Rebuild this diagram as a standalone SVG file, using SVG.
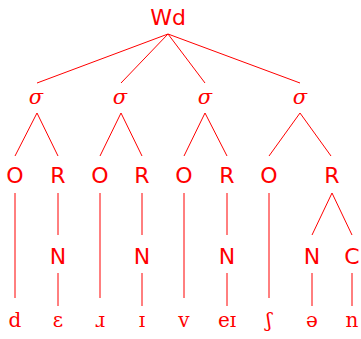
<svg xmlns="http://www.w3.org/2000/svg" width="361" height="339" viewBox="0 0 361 339">
<style>
.s{font-family:"DejaVu Sans",sans-serif;font-size:22px;fill:#ff0000;text-anchor:middle}
.g{font-family:"DejaVu Serif",serif;font-style:italic;font-size:21px;fill:#ff0000;text-anchor:middle}
.p{font-family:"DejaVu Serif",serif;font-size:20px;fill:#ff0000;text-anchor:middle}
line{stroke:#ff0000;stroke-width:1}
</style>
<rect width="361" height="339" fill="#ffffff"/>
<g id="connectors">
<line x1="168" y1="34" x2="37" y2="83"/>
<line x1="168" y1="34" x2="121" y2="83"/>
<line x1="168" y1="34" x2="205" y2="83"/>
<line x1="168" y1="34" x2="300" y2="83"/>
<line x1="37" y1="113" x2="15" y2="156"/>
<line x1="37" y1="113" x2="58" y2="156"/>
<line x1="121" y1="113" x2="100" y2="156"/>
<line x1="121" y1="113" x2="142" y2="156"/>
<line x1="205" y1="113" x2="184" y2="156"/>
<line x1="205" y1="113" x2="227" y2="156"/>
<line x1="300" y1="113" x2="269" y2="156"/>
<line x1="300" y1="113" x2="331" y2="156"/>
<line x1="15" y1="193" x2="15" y2="298"/>
<line x1="100" y1="193" x2="100" y2="298"/>
<line x1="184" y1="193" x2="184" y2="298"/>
<line x1="269" y1="193" x2="269" y2="298"/>
<line x1="58" y1="193" x2="58" y2="235"/>
<line x1="142" y1="193" x2="142" y2="235"/>
<line x1="227" y1="193" x2="227" y2="235"/>
<line x1="332" y1="193" x2="312" y2="235"/>
<line x1="332" y1="193" x2="352" y2="235"/>
<line x1="58" y1="273" x2="58" y2="306"/>
<line x1="142" y1="273" x2="142" y2="306"/>
<line x1="227" y1="273" x2="227" y2="306"/>
<line x1="312" y1="273" x2="312" y2="306"/>
<line x1="352" y1="273" x2="352" y2="306"/>
</g>
<g id="wd"><text class="s" x="168" y="25">Wd</text></g>
<g id="syl1"><text class="g" x="36" y="104">σ</text></g>
<g id="syl2"><text class="g" x="120" y="104">σ</text></g>
<g id="syl3"><text class="g" x="205" y="104">σ</text></g>
<g id="syl4"><text class="g" x="300" y="104">σ</text></g>
<g id="o1"><text class="s" x="15" y="183">O</text></g>
<g id="r1"><text class="s" x="58" y="183">R</text></g>
<g id="o2"><text class="s" x="100" y="183">O</text></g>
<g id="r2"><text class="s" x="142" y="183">R</text></g>
<g id="o3"><text class="s" x="184" y="183">O</text></g>
<g id="r3"><text class="s" x="227" y="183">R</text></g>
<g id="o4"><text class="s" x="269" y="183">O</text></g>
<g id="r4"><text class="s" x="332" y="183">R</text></g>
<g id="n1"><text class="s" x="58" y="264">N</text></g>
<g id="n2"><text class="s" x="142" y="264">N</text></g>
<g id="n3"><text class="s" x="227" y="264">N</text></g>
<g id="n4"><text class="s" x="312" y="264">N</text></g>
<g id="c4"><text class="s" x="352" y="264">C</text></g>
<g id="seg-d"><text class="p" x="15" y="327">d</text></g>
<g id="seg-e"><text class="p" x="58" y="327">ɛ</text></g>
<g id="seg-r"><text class="p" x="100" y="327">ɹ</text></g>
<g id="seg-i"><text class="p" x="142" y="327">ɪ</text></g>
<g id="seg-v"><text class="p" x="184" y="327">v</text></g>
<g id="seg-ei"><text class="p" x="227" y="327">eɪ</text></g>
<g id="seg-sh"><text class="p" x="269" y="327">ʃ</text></g>
<g id="seg-schwa"><text class="p" x="312" y="327">ə</text></g>
<g id="seg-n"><text class="p" x="352" y="327">n</text></g>
</svg>
